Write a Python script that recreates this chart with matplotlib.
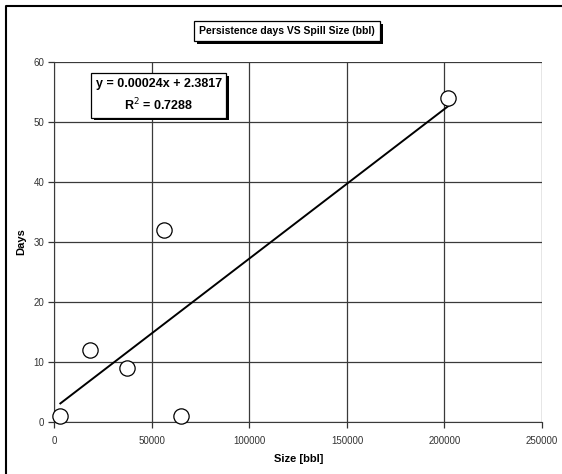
import matplotlib.pyplot as plt
import matplotlib.patheffects as pe
import numpy as np
from matplotlib.lines import Line2D

plt.rcParams['font.family'] = ['Liberation Sans', 'DejaVu Sans']

size_bbl = [3000, 18000, 37000, 56000, 65000, 202000]
days = [1, 12, 9, 32, 1, 54]
xticks = [0, 50000, 100000, 150000, 200000, 250000]
yticks = [0, 10, 20, 30, 40, 50, 60]

W, H = 562, 474
fig = plt.figure(figsize=(W / 100, H / 100), dpi=100)

# outer chart frame (right and bottom edges fall outside the picture)
fig.lines.append(Line2D([5.5 / W, 5.5 / W, 1.0], [0.0, 1 - 6 / H, 1 - 6 / H],
                        transform=fig.transFigure, color='black',
                        linewidth=1.5))

ax = fig.add_axes([54.5 / W, 52 / H, 487.5 / W, 360 / H])
ax.set_xlim(0, 250000)
ax.set_ylim(0, 60)
ax.set_xticks(xticks)
ax.set_yticks(yticks)
ax.grid(True, color='#3a3a3a', linewidth=0.9)
ax.set_axisbelow(True)
for s in ['top', 'right']:
    ax.spines[s].set_visible(False)
for s in ['left', 'bottom']:
    ax.spines[s].set_color('#3a3a3a')
ax.tick_params(labelsize=7, colors='#333333', length=4, width=0.9,
               direction='out')
ax.tick_params(axis='x', pad=6)

m, b = np.polyfit(size_bbl, days, 1)
xl = np.array([min(size_bbl), max(size_bbl)])
ax.plot(xl, m * xl + b, color='black', linewidth=1.4, zorder=3)
ax.plot(size_bbl, days, 'o', markersize=11, markerfacecolor='white',
        markeredgecolor='black', markeredgewidth=0.9, zorder=4,
        clip_on=False)

ax.set_xlabel('Size [bbl]', fontsize=8, fontweight='bold', labelpad=6)
ax.set_ylabel('Days', fontsize=8, fontweight='bold', labelpad=5)

shadow = [pe.SimplePatchShadow(offset=(2, -2), shadow_rgbFace='black',
                               alpha=1.0), pe.Normal()]

t = fig.text(287 / W, 1 - 31 / H, 'Persistence days VS Spill Size (bbl)',
             ha='center', va='center', fontsize=7.5, fontweight='bold',
             bbox=dict(boxstyle='square,pad=0.5', facecolor='white',
                       edgecolor='black', linewidth=0.9))
t.get_bbox_patch().set_path_effects(shadow)

eq = ax.text(0.214, 0.907, 'y = 0.00024x + 2.3817\nR$^2$ = 0.7288',
             transform=ax.transAxes, ha='center', va='center', fontsize=9,
             fontweight='bold', linespacing=1.5, zorder=5,
             bbox=dict(boxstyle='square,pad=0.35', facecolor='white',
                       edgecolor='black', linewidth=0.9))
eq.get_bbox_patch().set_path_effects(shadow)

fig.savefig('out.png', dpi=100)
